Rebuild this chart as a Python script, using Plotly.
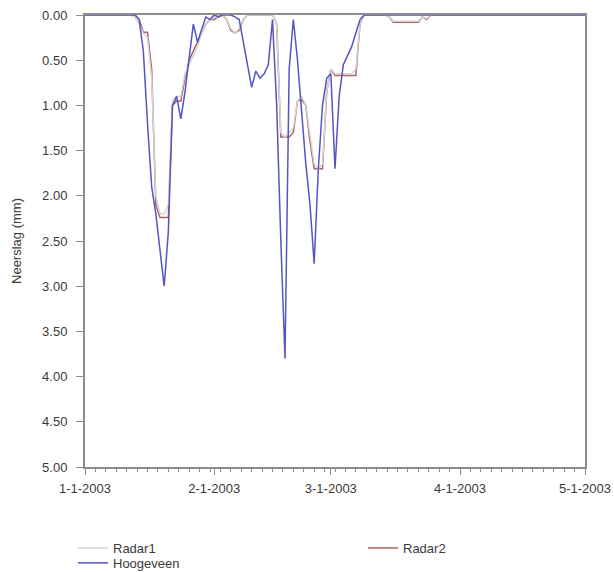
import pandas as pd
import plotly.graph_objects as go

# Daily precipitation (mm), starting 1-1-2003
hoogeveen = [0]*13 + [
    0.05, 0.4, 1.2, 1.9, 2.2, 2.6, 3.0, 2.4, 1.0, 0.9,      # d13-22
    1.15, 0.85, 0.45, 0.1, 0.3, 0.15, 0.02, 0.05, 0.0, 0.02,  # d23-32
    0.0, 0.0, 0.0, 0.02, 0.05, 0.3, 0.55, 0.8, 0.62, 0.7,    # d33-42
    0.65, 0.55, 0.05, 1.0, 2.5, 3.8, 0.6, 0.05, 0.5, 1.1,    # d43-52
    1.65, 2.1, 2.75, 1.7, 1.0, 0.7, 0.65, 1.7, 0.9, 0.55,    # d53-62
    0.45, 0.35, 0.2, 0.05] + [0]*55

radar2 = [0]*13 + [
    0.05, 0.19, 0.19, 0.6, 2.1, 2.24, 2.24, 2.24, 1.0, 0.95,  # d13-22
    0.95, 0.7, 0.5, 0.4, 0.3, 0.2, 0.1, 0.05, 0.05, 0.02,     # d23-32
    0.0, 0.05, 0.17, 0.2, 0.17, 0.05, 0.0, 0.0, 0.0, 0.0,     # d33-42
    0.0, 0.0, 0.0, 0.1, 1.35, 1.35, 1.35, 1.3, 0.95, 0.94,    # d43-52
    1.0, 1.4, 1.7, 1.7, 1.7, 0.85, 0.6, 0.67, 0.67, 0.67,     # d53-62
    0.67, 0.67, 0.67, 0.1, 0.0, 0.0, 0.0, 0.0, 0.0, 0.0,      # d63-72
    0.02, 0.08, 0.08, 0.08, 0.08, 0.08, 0.08, 0.08, 0.02, 0.05, # d73-82
    0.0] + [0]*37

radar1 = [0]*12 + [
    0.03, 0.1, 0.2, 0.25, 0.7, 2.0, 2.2, 2.2, 2.1, 0.95, 0.9,  # d12-22
    0.9, 0.65, 0.55, 0.45, 0.35, 0.2, 0.1, 0.05, 0.03, 0.02,   # d23-32
    0.0, 0.05, 0.15, 0.2, 0.15, 0.05, 0.0, 0.0, 0.0, 0.0,      # d33-42
    0.0, 0.0, 0.0, 0.1, 1.3, 1.35, 1.3, 1.25, 0.95, 0.9,       # d43-52
    1.0, 1.35, 1.65, 1.7, 1.65, 0.85, 0.6, 0.65, 0.65, 0.65,   # d53-62
    0.65, 0.65, 0.6, 0.1, 0.0, 0.0, 0.0, 0.0, 0.0, 0.0,        # d63-72
    0.02, 0.07, 0.07, 0.07, 0.07, 0.07, 0.07, 0.07, 0.02, 0.04,  # d73-82
    0.0] + [0]*37

dates_h = pd.date_range("2003-01-01", periods=len(hoogeveen), freq="D")
dates_r2 = pd.date_range("2003-01-01", periods=len(radar2), freq="D")
dates_r1 = pd.date_range("2003-01-01", periods=len(radar1), freq="D")

tick_dates = ["2003-01-01", "2003-02-01", "2003-03-01", "2003-04-01", "2003-05-01"]
tick_labels = ["1-1-2003", "2-1-2003", "3-1-2003", "4-1-2003", "5-1-2003"]
y_ticks = [0, 0.5, 1, 1.5, 2, 2.5, 3, 3.5, 4, 4.5, 5]

fig = go.Figure()
fig.add_trace(go.Scatter(x=dates_r2, y=radar2, mode="lines", name="Radar2",
                         line=dict(color="#b06060", width=1.5), legend="legend2"))
fig.add_trace(go.Scatter(x=dates_r1, y=radar1, mode="lines", name="Radar1",
                         line=dict(color="#d4d4d4", width=1.5), legend="legend"))
fig.add_trace(go.Scatter(x=dates_h, y=hoogeveen, mode="lines", name="Hoogeveen",
                         line=dict(color="#5555c0", width=1.5), legend="legend3"))

axis_col = "#8c8c8c"
txt_col = "#3a3a3a"
FS = 13
leg_common = dict(xanchor="left", yanchor="top", itemwidth=30,
                  font=dict(size=FS, color=txt_col),
                  bgcolor="rgba(0,0,0,0)", tracegroupgap=0)
fig.update_layout(
    width=614, height=572,
    margin=dict(l=85, r=29, t=15, b=105, autoexpand=False),
    paper_bgcolor="white", plot_bgcolor="white",
    font=dict(family="Liberation Sans, Arial, sans-serif", size=FS, color=txt_col),
    showlegend=True,
    legend=dict(x=-0.024, y=-0.146, **leg_common),
    legend2=dict(x=0.556, y=-0.146, **leg_common),
    legend3=dict(x=-0.024, y=-0.179, **leg_common),
    xaxis=dict(
        type="date", range=["2003-01-01", "2003-05-01"], automargin=False,
        tickvals=tick_dates, ticktext=tick_labels, tickangle=0,
        ticks="outside", ticklen=6, tickcolor=axis_col, tickwidth=1,
        ticklabelstandoff=2,
        showline=True, linecolor=axis_col, linewidth=2, mirror=True,
        showgrid=False, zeroline=False,
        tickfont=dict(size=FS, color=txt_col),
        minor=dict(tick0="2003-01-01", dtick=216000000, ticks="outside", ticklen=3,
                   tickcolor=axis_col, showgrid=False),
    ),
    yaxis=dict(
        range=[5, 0], tickvals=y_ticks, tickformat=".2f", automargin=False,
        ticks="outside", ticklen=7, tickcolor=axis_col, tickwidth=1,
        ticklabelstandoff=6,
        showline=True, linecolor=axis_col, linewidth=2, mirror=True,
        showgrid=False, zeroline=False,
        title=dict(text="Neerslag (mm)", font=dict(size=FS, color=txt_col), standoff=18),
        tickfont=dict(size=FS, color=txt_col),
    ),
)

fig.write_html("out.html", config={"displayModeBar": False},
               post_script="document.body.style.margin='0';")
